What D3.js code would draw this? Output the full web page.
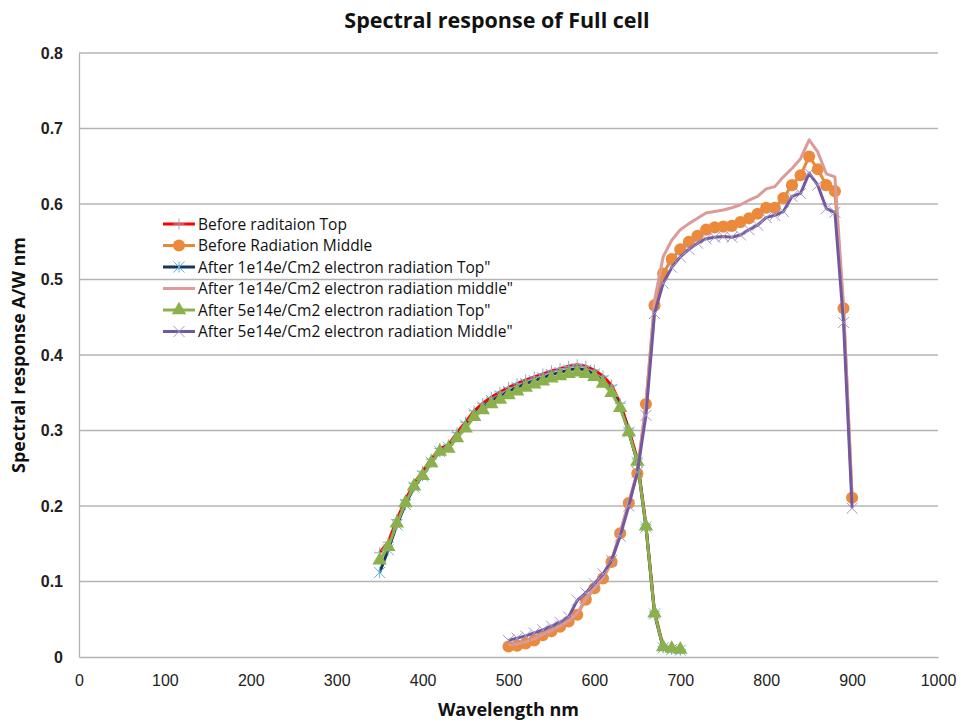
<!DOCTYPE html>
<html>
<head>
<meta charset="utf-8">
<script src="https://cdn.jsdelivr.net/npm/d3@7"></script>
<style>
  body { margin: 0; background: #fff; }
  svg { font-family: "Open Sans", "Liberation Sans", sans-serif; }
</style>
</head>
<body>
<div id="chart"></div>
<script>
// wavelengths (nm)
const wlTop = d3.range(350, 701, 10);
const wlMid = d3.range(500, 901, 10);

// top cell series
const beforeTop = [0.138, 0.152, 0.182, 0.208, 0.230, 0.246, 0.262, 0.276, 0.281, 0.297, 0.311, 0.326, 0.336, 0.344, 0.351, 0.357, 0.362, 0.367, 0.371, 0.375, 0.379, 0.382, 0.385, 0.387, 0.385, 0.380, 0.372, 0.360, 0.336, 0.302, 0.262, 0.175, 0.060, 0.014, 0.011, 0.010];
const after1Top = [0.112, 0.142, 0.175, 0.202, 0.225, 0.240, 0.258, 0.272, 0.278, 0.293, 0.307, 0.322, 0.331, 0.340, 0.346, 0.352, 0.357, 0.362, 0.366, 0.370, 0.374, 0.377, 0.380, 0.382, 0.380, 0.375, 0.366, 0.354, 0.332, 0.298, 0.258, 0.172, 0.057, 0.012, 0.010, 0.009];
const after5Top = [0.128, 0.146, 0.177, 0.204, 0.226, 0.240, 0.257, 0.272, 0.276, 0.290, 0.303, 0.318, 0.327, 0.335, 0.341, 0.347, 0.352, 0.357, 0.361, 0.365, 0.369, 0.372, 0.375, 0.377, 0.375, 0.371, 0.362, 0.350, 0.330, 0.298, 0.259, 0.173, 0.058, 0.013, 0.011, 0.010];

// middle cell series
const beforeMid = [0.014, 0.015, 0.018, 0.022, 0.029, 0.034, 0.040, 0.047, 0.056, 0.076, 0.091, 0.104, 0.126, 0.164, 0.204, 0.243, 0.335, 0.466, 0.508, 0.527, 0.540, 0.550, 0.558, 0.566, 0.569, 0.570, 0.571, 0.576, 0.581, 0.587, 0.595, 0.595, 0.608, 0.625, 0.638, 0.663, 0.646, 0.625, 0.617, 0.462, 0.211];
const after1Mid = [0.016, 0.017, 0.020, 0.024, 0.030, 0.035, 0.041, 0.048, 0.058, 0.077, 0.092, 0.106, 0.128, 0.165, 0.205, 0.245, 0.336, 0.472, 0.530, 0.552, 0.566, 0.574, 0.581, 0.588, 0.590, 0.592, 0.595, 0.599, 0.605, 0.610, 0.620, 0.623, 0.636, 0.647, 0.660, 0.685, 0.669, 0.640, 0.636, 0.465, 0.210];
const after5Mid = [0.022, 0.025, 0.028, 0.032, 0.036, 0.041, 0.046, 0.053, 0.075, 0.085, 0.097, 0.110, 0.128, 0.160, 0.200, 0.245, 0.320, 0.455, 0.495, 0.516, 0.530, 0.540, 0.548, 0.554, 0.556, 0.557, 0.556, 0.559, 0.566, 0.572, 0.582, 0.585, 0.590, 0.610, 0.614, 0.641, 0.625, 0.594, 0.589, 0.443, 0.197];

const xTicks = d3.range(0, 1001, 100);
const yTicks = [0, 0.1, 0.2, 0.3, 0.4, 0.5, 0.6, 0.7, 0.8];

const series = [
  { name: 'Before raditaion Top', wl: wlTop, v: beforeTop, color: '#ff0000', marker: 'plus', mcolor: '#8fa9c8' },
  { name: 'Before Radiation Middle', wl: wlMid, v: beforeMid, color: '#e8893a', marker: 'circle', mcolor: '#eb8a3a' },
  { name: 'After 1e14e/Cm2 electron radiation Top"', wl: wlTop, v: after1Top, color: '#17375e', marker: 'star', mcolor: '#5fb4dc' },
  { name: 'After 1e14e/Cm2 electron radiation middle"', wl: wlMid, v: after1Mid, color: '#dc9a98', marker: 'none' },
  { name: 'After 5e14e/Cm2 electron radiation Top"', wl: wlTop, v: after5Top, color: '#8cb04c', marker: 'triangle', mcolor: '#8cb04c' },
  { name: 'After 5e14e/Cm2 electron radiation Middle"', wl: wlMid, v: after5Mid, color: '#7158a0', marker: 'cross', mcolor: '#a49ac4' }
];

const W = 976, H = 724;
const margin = { top: 53, right: 38, bottom: 67, left: 79 };
const width = W - margin.left - margin.right,
      height = H - margin.top - margin.bottom;

const svg = d3.select('#chart').append('svg')
  .attr('width', W).attr('height', H);

const g = svg.append('g')
  .attr('transform', `translate(${margin.left},${margin.top})`);

const x = d3.scaleLinear().domain([0, 1000]).range([0, width]);
const y = d3.scaleLinear().domain([0, 0.8]).range([height, 0]);

// gridlines
g.append('g')
  .selectAll('line')
  .data(yTicks.slice(1))
  .enter().append('line')
  .attr('x1', 0).attr('x2', width)
  .attr('y1', d => y(d)).attr('y2', d => y(d))
  .attr('stroke', '#b4b4b4').attr('stroke-width', 1.3);

// axes
const xAxis = g.append('g')
  .attr('transform', `translate(0,${height})`)
  .call(d3.axisBottom(x).tickValues(xTicks).tickSize(0).tickPadding(18).tickFormat(d3.format('d')));
xAxis.select('.domain').attr('stroke', '#b4b4b4').attr('stroke-width', 1.3);
xAxis.selectAll('text').attr('font-size', 16).attr('fill', '#222');

const yAxis = g.append('g')
  .call(d3.axisLeft(y).tickValues(yTicks).tickSize(0).tickPadding(16).tickFormat(d => d === 0 ? '0' : d3.format('.1f')(d)));
yAxis.select('.domain').attr('stroke', '#b4b4b4').attr('stroke-width', 1.3);
yAxis.selectAll('text').attr('font-size', 16).attr('font-weight', 'bold').attr('fill', '#222');

// markers
function drawMarker(sel, type, color, size) {
  const s = size;
  if (type === 'circle') {
    sel.append('circle').attr('r', s * 0.55).attr('fill', color);
  } else if (type === 'triangle') {
    sel.append('path').attr('d', d3.symbol(d3.symbolTriangle, s * s * 0.75)()).attr('fill', color);
  } else if (type === 'plus') {
    sel.append('path').attr('d', `M${-s / 2},0H${s / 2}M0,${-s / 2}V${s / 2}`)
      .attr('stroke', color).attr('stroke-width', 1).attr('fill', 'none');
  } else if (type === 'cross') {
    sel.append('path').attr('d', `M${-s / 2},${-s / 2}L${s / 2},${s / 2}M${-s / 2},${s / 2}L${s / 2},${-s / 2}`)
      .attr('stroke', color).attr('stroke-width', 1).attr('fill', 'none');
  } else if (type === 'star') {
    sel.append('path').attr('d', `M${-s / 2},${-s / 2}L${s / 2},${s / 2}M${-s / 2},${s / 2}L${s / 2},${-s / 2}M0,${-s / 2}V${s / 2}`)
      .attr('stroke', color).attr('stroke-width', 1).attr('fill', 'none');
  }
}

const line = d3.line().x(d => x(d[0])).y(d => y(d[1]));

series.forEach(s => {
  const pts = s.wl.map((w, i) => [w, s.v[i]]);
  g.append('path')
    .datum(pts)
    .attr('d', line)
    .attr('fill', 'none')
    .attr('stroke', s.color)
    .attr('stroke-width', 3)
    .attr('stroke-linejoin', 'round');
  if (s.marker !== 'none') {
    g.append('g').selectAll('g')
      .data(pts)
      .enter().append('g')
      .attr('transform', d => `translate(${x(d[0])},${y(d[1])})`)
      .each(function () { drawMarker(d3.select(this), s.marker, s.mcolor, 11); });
  }
});

// legend
const legend = svg.append('g').attr('transform', 'translate(163,224)');
series.forEach((s, i) => {
  const row = legend.append('g').attr('transform', `translate(0,${i * 21.5})`);
  row.append('line').attr('x1', 0).attr('x2', 32).attr('y1', 0).attr('y2', 0)
    .attr('stroke', s.color).attr('stroke-width', 3);
  if (s.marker !== 'none') {
    drawMarker(row.append('g').attr('transform', 'translate(16,0)'), s.marker, s.mcolor, 11);
  }
  row.append('text').attr('x', 35).attr('y', 5.5)
    .attr('font-size', 15.5).attr('fill', '#111').text(s.name);
});

// titles
svg.append('text').attr('x', 497).attr('y', 28)
  .attr('text-anchor', 'middle').attr('font-size', 21.5).attr('font-weight', 'bold')
  .attr('fill', '#111').text('Spectral response of Full cell');

svg.append('text').attr('x', margin.left + width / 2).attr('y', 716)
  .attr('text-anchor', 'middle').attr('font-size', 18).attr('font-weight', 'bold')
  .attr('fill', '#111').text('Wavelength nm');

svg.append('text')
  .attr('transform', `translate(25,${margin.top + height / 2}) rotate(-90)`)
  .attr('text-anchor', 'middle').attr('font-size', 18).attr('font-weight', 'bold')
  .attr('fill', '#111').text('Spectral response A/W nm');
</script>
</body>
</html>
